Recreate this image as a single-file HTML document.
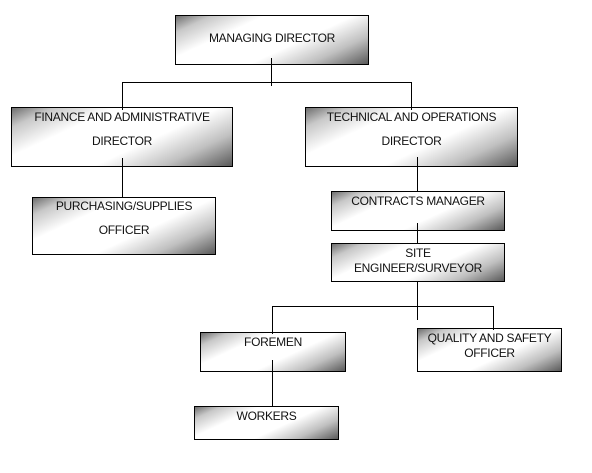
<!DOCTYPE html>
<html><head><meta charset="utf-8"><style>
body{margin:0;background:#fff;width:592px;height:473px;position:relative;overflow:hidden;font-family:"Liberation Sans",Arial,sans-serif;}
.b{position:absolute;box-sizing:border-box;border:1px solid #000;background:linear-gradient(155deg,#6e6e6e 0%,#c8c8c8 12%,#fff 30%,#fff 60%,#c0c0c0 80%,#5a5a5a 100%);font-size:12px;color:#111;text-align:center;letter-spacing:-0.3px;}
.h{position:absolute;height:1px;background:#000;}
.v{position:absolute;width:1px;background:#000;}
.t{position:absolute;left:0;right:0;}
</style></head><body>
<div class="b" style="left:175px;top:15px;width:194px;height:50px"><div class="t" style="top:15px">MANAGING DIRECTOR</div></div>
<div class="b" style="left:11px;top:107px;width:222px;height:60px"><div class="t" style="top:2px">FINANCE AND ADMINISTRATIVE</div><div class="t" style="top:26px">DIRECTOR</div></div>
<div class="b" style="left:305px;top:107px;width:213px;height:60px"><div class="t" style="top:2px">TECHNICAL AND OPERATIONS</div><div class="t" style="top:26px">DIRECTOR</div></div>
<div class="b" style="left:32px;top:197px;width:184px;height:58px"><div class="t" style="top:1px">PURCHASING/SUPPLIES</div><div class="t" style="top:25px">OFFICER</div></div>
<div class="b" style="left:331px;top:191px;width:174px;height:40px"><div class="t" style="top:2px">CONTRACTS MANAGER</div></div>
<div class="b" style="left:331px;top:243px;width:174px;height:39px"><div class="t" style="top:2px">SITE</div><div class="t" style="top:17px">ENGINEER/SURVEYOR</div></div>
<div class="b" style="left:200px;top:332px;width:146px;height:40px"><div class="t" style="top:2px">FOREMEN</div></div>
<div class="b" style="left:417px;top:328px;width:145px;height:44px"><div class="t" style="top:2px">QUALITY AND SAFETY</div><div class="t" style="top:17px">OFFICER</div></div>
<div class="b" style="left:194px;top:406px;width:145px;height:34px"><div class="t" style="top:2px">WORKERS</div></div>
<div class="v" style="left:271px;top:58px;height:28px"></div>
<div class="h" style="left:122px;top:82px;width:290px"></div>
<div class="v" style="left:122px;top:82px;height:28px"></div>
<div class="v" style="left:411px;top:82px;height:28px"></div>
<div class="v" style="left:122px;top:158px;height:39px"></div>
<div class="v" style="left:417px;top:157px;height:34px"></div>
<div class="v" style="left:417px;top:223px;height:20px"></div>
<div class="v" style="left:417px;top:282px;height:38px"></div>
<div class="h" style="left:272px;top:306px;width:222px"></div>
<div class="v" style="left:272px;top:306px;height:28px"></div>
<div class="v" style="left:493px;top:306px;height:24px"></div>
<div class="v" style="left:272px;top:360px;height:46px"></div>
</body></html>
